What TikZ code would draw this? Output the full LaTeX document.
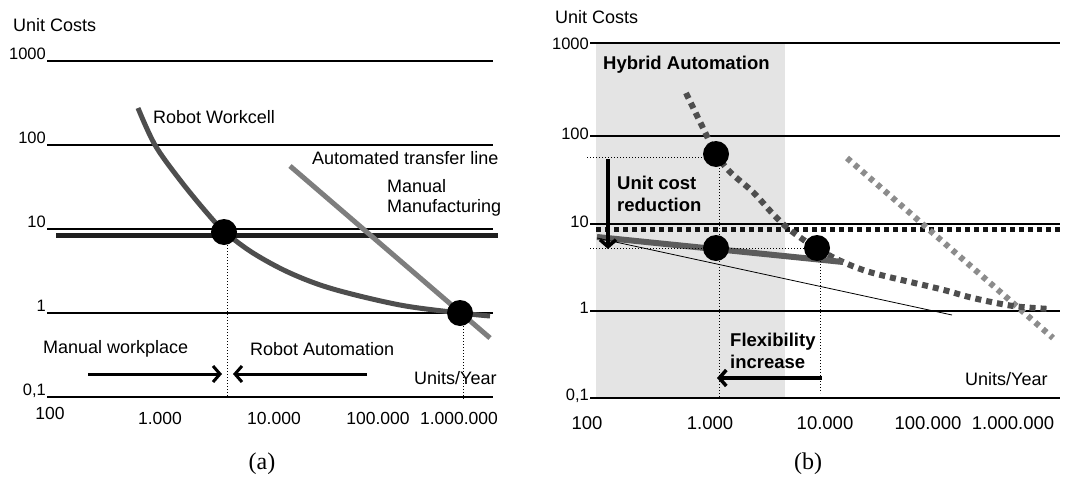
\documentclass[tikz,border=0pt]{standalone}
\usepackage{fontspec}
\setmainfont{Liberation Sans}
\newfontfamily\capfont{Liberation Serif}
\usetikzlibrary{arrows.meta}

\definecolor{workcell}{HTML}{4E4E4E}
\definecolor{transfer}{HTML}{7E7E7E}
\definecolor{hybridbg}{HTML}{E4E4E4}
\definecolor{cellsolid}{HTML}{5C5C5C}
\definecolor{lighttransfer}{HTML}{8C8C8C}

\begin{document}
\begin{tikzpicture}[x=1pt,y=-1pt,
  lbl/.style={font=\fontsize{18}{20}\selectfont, inner sep=0pt, anchor=west, align=left},
  blbl/.style={font=\fontsize{18.5}{22}\selectfont\bfseries, inner sep=0pt, anchor=west, align=left},
  ytick/.style={font=\fontsize{16.5}{18}\selectfont, inner sep=0pt, anchor=base east},
  xtick/.style={font=\fontsize{17.5}{20}\selectfont, inner sep=0pt},
  caption/.style={font=\capfont\fontsize{24}{26}\selectfont, inner sep=0pt},
  gridline/.style={line width=1.8pt},
  dot/.style={circle, fill=black, inner sep=0pt, minimum size=26pt},
  guide/.style={dotted, line width=1pt},
  bigarrow/.style={line width=3pt, -{Straight Barb[length=7pt,width=16pt]}},
  ]
\useasboundingbox (0,0) rectangle (1076,482);

% ---------------- panel (a) ----------------
\node[lbl] (ucA) at (13,25) {Unit Costs};

\draw[gridline] (47,61) -- (493,61);
\draw[gridline] (47,145) -- (493,145);
\draw[gridline] (47,229) -- (493,229);
\draw[gridline] (47,313) -- (493,313);
\draw[gridline] (47,397) -- (493,397);
\node[ytick] (yA1000) at (46,59) {1000};
\node[ytick] (yA100)  at (46,143) {100};
\node[ytick] (yA10)   at (46,227) {10};
\node[ytick] (yA1)    at (46,311) {1};
\node[ytick] (yA01)   at (46,395) {0,1};

\node[xtick] (xA100)  at (50,413) {100};
\node[xtick] (xA1k)   at (160,418) {1.000};
\node[xtick] (xA10k)  at (274,418) {10.000};
\node[xtick] (xA100k) at (378,418) {100.000};
\node[xtick] (xA1M)   at (459,418) {1.000.000};

% manual manufacturing: flat cost
\draw[line width=5pt, black!88] (56,235) -- (498,235);

% robot workcell cost curve
\draw[line width=5pt, workcell] plot[smooth, tension=0.55] coordinates
  {(138,108) (155,145) (180,180) (207,213) (225,232) (253,253) (290,273)
   (333,289) (400,305) (460,313) (490,316)};

% automated transfer line
\draw[line width=5pt, transfer] (290,166) -- (490,338);

\node[lbl] (rw) at (153,117) {Robot Workcell};
\node[lbl] (atl) at (312,158) {Automated transfer line};
\node[lbl, font=\fontsize{18}{19.5}\selectfont] (mm) at (387,198) {Manual\\Manufacturing};

\node[dot] (dA1) at (224,232) {};
\node[dot] (dA2) at (460,313) {};
\coordinate (gA1) at (227,397);
\coordinate (gA2) at (463,400);
\draw[guide] (dA1.center -| gA1) ++(0,13) -- (gA1);
\draw[guide] (dA2.center -| gA2) ++(0,13) -- (gA2);

\node[lbl] (mw) at (43,349) {Manual workplace};
\node[lbl] (ra) at (250,349) {Robot Automation};
\node[lbl] (uyA) at (414,378) {Units/Year};
\coordinate (arL0) at (88,374);
\coordinate (arL1) at (222,374);
\coordinate (arR0) at (367,374);
\coordinate (arR1) at (233,374);
\draw[bigarrow] (arL0) -- (arL1);
\draw[bigarrow] (arR0) -- (arR1);

\node[caption] (capA) at (262,464) {(a)};

% ---------------- panel (b) ----------------
\node[lbl] (ucB) at (555,17) {Unit Costs};

\fill[hybridbg] (596,43) rectangle (785,398);

\draw[gridline] (590,43) -- (1060,43);
\draw[gridline] (590,136) -- (1060,136);
\draw[gridline] (590,224) -- (1060,224);
\draw[gridline] (590,311) -- (1060,311);
\draw[gridline] (590,398) -- (1060,398);
\node[ytick] (yB1000) at (589,49) {1000};
\node[ytick] (yB100)  at (589,139) {100};
\node[ytick] (yB10)   at (589,227) {10};
\node[ytick] (yB1)    at (589,313) {1};
\node[ytick] (yB01)   at (589,400) {0,1};

\node[xtick, font=\fontsize{18.5}{20}\selectfont] (xB100)  at (587,423) {100};
\node[xtick, font=\fontsize{18.5}{20}\selectfont] (xB1k)   at (710,423) {1.000};
\node[xtick, font=\fontsize{18.5}{20}\selectfont] (xB10k)  at (825,423) {10.000};
\node[xtick, font=\fontsize{18.5}{20}\selectfont] (xB100k) at (928,423) {100.000};
\node[xtick, font=\fontsize{18.5}{20}\selectfont] (xB1M)   at (1013,423) {1.000.000};

\node[blbl] (ha) at (603,65) {Hybrid Automation};

% manual manufacturing (dotted)
\draw[line width=5pt, black!92, dash pattern=on 5pt off 4pt] (596,229) -- (1060,229);

% automated transfer line (dotted)
\draw[line width=6pt, lighttransfer, dash pattern=on 5pt off 5pt] (847,158) -- (1053,338);

% robot workcell curve (dotted)
\draw[line width=6pt, workcell, dash pattern=on 6pt off 5pt] plot[smooth, tension=0.5] coordinates
  {(686,93) (703,128) (716,154) (730,172) (753,192) (773,214) (790,230)
   (816,248) (843,262) (873,273) (940,289) (973,298) (1013,306) (1050,309)};

% hybrid automation cost line
\draw[line width=6pt, cellsolid] (597,237) -- (843,262);
\draw[line width=0.8pt] (597,238) -- (952,315);

\node[dot] (dB1) at (716,154) {};
\node[dot] (dB2) at (716,248) {};
\node[dot] (dB3) at (817,248) {};

\coordinate (hB1) at (587,157);
\coordinate (hB2) at (590,248);
\coordinate (vB1) at (719,397);
\coordinate (vB2) at (820,393);
\draw[guide] (hB1) -- (dB1.center |- hB1);
\draw[guide] (hB2) -- (dB3.center |- hB2);
\draw[guide] (dB1.center -| vB1) ++(0,14) -- (vB1);
\draw[guide] (dB3.center -| vB2) ++(0,13) -- (vB2);

\coordinate (dn0) at (608,159);
\coordinate (dn1) at (608,249);
\draw[bigarrow, line width=3.5pt] (dn0) -- (dn1);
\node[blbl] (ucr) at (617,194) {Unit cost\\reduction};

\node[blbl] (fi) at (730,351) {Flexibility\\increase};
\coordinate (fx0) at (822,378);
\coordinate (fx1) at (717,378);
\draw[bigarrow, line width=3.5pt] (fx0) -- (fx1);

\node[lbl] (uyB) at (965,379) {Units/Year};

\node[caption] (capB) at (808,464) {(b)};
\end{tikzpicture}
\end{document}
